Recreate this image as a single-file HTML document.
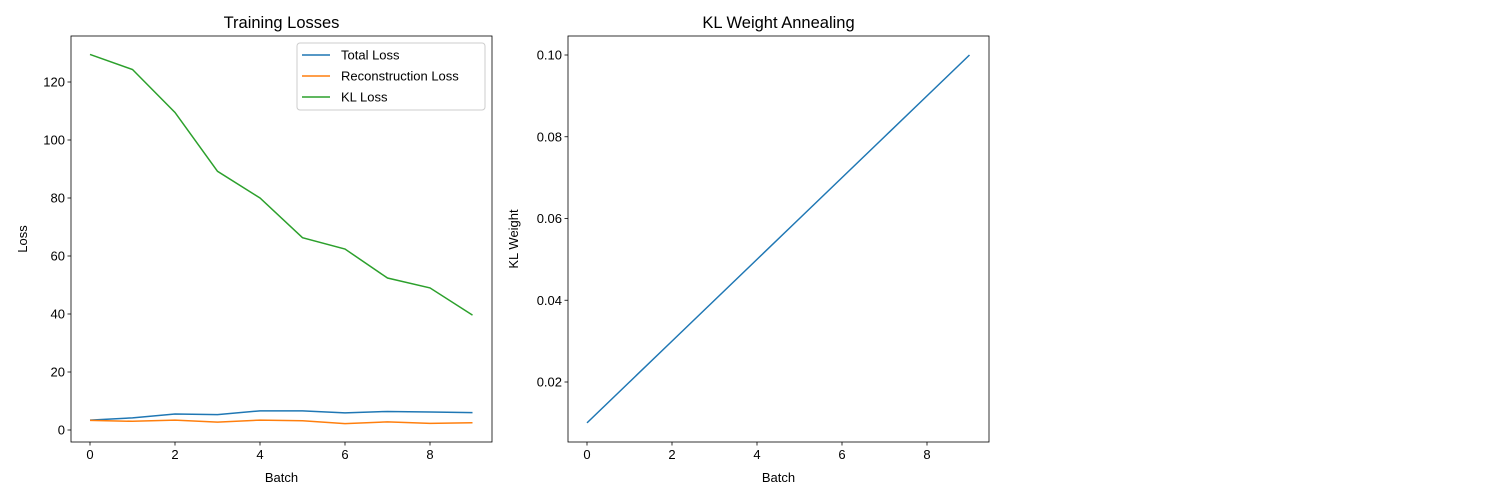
<!DOCTYPE html>
<html><head><meta charset="utf-8"><style>
body{margin:0;background:#fff}
svg{font-family:"Liberation Sans","DejaVu Sans",sans-serif;display:block}
</style></head><body>
<svg id="c" width="1500" height="500"></svg>
<script>
const batches=[0,1,2,3,4,5,6,7,8,9];
const totalLoss=[3.4,4.2,5.5,5.3,6.6,6.6,5.9,6.4,6.2,6.0];
const reconLoss=[3.3,3.0,3.4,2.7,3.4,3.2,2.2,2.8,2.3,2.5];
const klLoss=[129.5,124.3,109.5,89.2,80,66.3,62.4,52.4,49,39.6];
const klWeight=[0.01,0.02,0.03,0.04,0.05,0.06,0.07,0.08,0.09,0.10];
const xTicks=[0,2,4,6,8];
const lossTicks=[0,20,40,60,80,100,120];
const weightTicks=[0.02,0.04,0.06,0.08,0.10];
const weightTickLabels=["0.02","0.04","0.06","0.08","0.10"];
const NS="http://www.w3.org/2000/svg";
const svg=document.getElementById('c');
function el(t,a,p){const e=document.createElementNS(NS,t);for(const k in a)e.setAttribute(k,a[k]);(p||svg).appendChild(e);return e;}
function txt(s,a,p){const e=el('text',a,p);e.textContent=s;return e;}

function panel(name,L,R,T,B,xs,ys,yTicks,yLabels,title,ylab,ylabOff,series){
  const g=el('g',{});
  
  
  series.forEach(s=>{
    const d=s.vals.map((v,i)=>(i?'L':'M')+xs(batches[i]).toFixed(2)+','+ys(v).toFixed(2)).join(' ');
    const p=el('path',{d:d,fill:'none',stroke:s.color,'stroke-width':1.5},g);
    
    
  });
  const fr=el('rect',{x:L,y:T,width:R-L,height:B-T,fill:'none',stroke:'#000','stroke-width':0.8},g);
  
  
  xTicks.forEach(t=>{
    const x=xs(t);
    el('line',{x1:x,x2:x,y1:B,y2:B+3.5,stroke:'#000','stroke-width':0.8},g);
    const tl=txt(String(t),{x:x,y:B+17,'font-size':13,'text-anchor':'middle'},g);
    
    
  });
  yTicks.forEach((t,i)=>{
    const y=ys(t);
    el('line',{x1:L-3.5,x2:L,y1:y,y2:y,stroke:'#000','stroke-width':0.8},g);
    const tl=txt(yLabels[i],{x:L-6,y:y+4.5,'font-size':13,'text-anchor':'end'},g);
    
    
  });
  const tt=txt(title,{x:(L+R)/2,y:T-8,'font-size':16.5,'text-anchor':'middle'},g);
  
  
  const xl=txt('Batch',{x:(L+R)/2,y:B+40,'font-size':13,'text-anchor':'middle'},g);
  
  
  const yc=(T+B)/2;
  const yl=txt(ylab,{x:0,y:0,'font-size':13,'text-anchor':'middle',transform:`translate(${L-ylabOff},${yc}) rotate(-90)`},g);
  
  
  return g;
}
// left panel
const L1=71,R1=492,T1=36,B1=442;
const xs1=v=>90+v*42.5, ys1=v=>430-v*2.9;
panel('training-losses-chart',L1,R1,T1,B1,xs1,ys1,lossTicks,lossTicks.map(String),'Training Losses','Loss',44,[
 {vals:totalLoss,color:'#1f77b4',name:'total-loss-line'},
 {vals:reconLoss,color:'#ff7f0e',name:'reconstruction-loss-line'},
 {vals:klLoss,color:'#2ca02c',name:'kl-loss-line'}]);
// legend
const lg=el('g',{});


el('rect',{x:297,y:43,width:188,height:67,rx:3,fill:'#fff',stroke:'#ccc','stroke-width':1},lg);
[['Total Loss','#1f77b4'],['Reconstruction Loss','#ff7f0e'],['KL Loss','#2ca02c']].forEach((e,i)=>{
  const y=55+i*21;
  const it=el('g',{},lg);
  
  
  el('line',{x1:302,x2:330,y1:y,y2:y,stroke:e[1],'stroke-width':1.5},it);
  txt(e[0],{x:341,y:y+4.5,'font-size':13},it);
});
// right panel
const L2=568,R2=989,T2=36,B2=442;
const xs2=v=>587+v*42.5, ys2=v=>382-(v-0.02)*4087.5;
panel('kl-weight-chart',L2,R2,T2,B2,xs2,ys2,weightTicks,weightTickLabels,'KL Weight Annealing','KL Weight',50,[
 {vals:klWeight,color:'#1f77b4',name:'kl-weight-line'}]);
</script>
</body></html>
